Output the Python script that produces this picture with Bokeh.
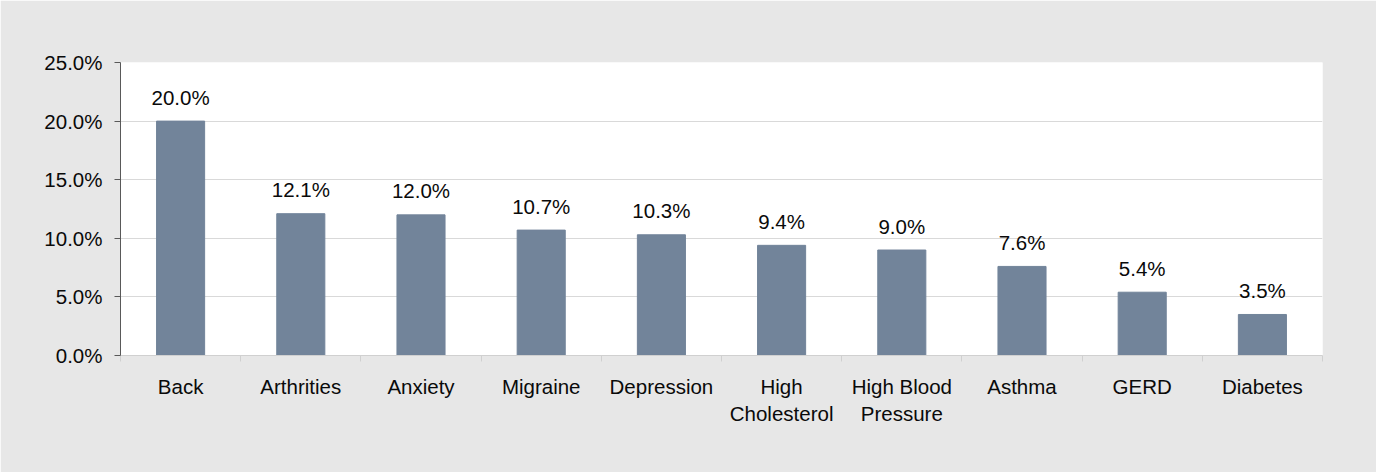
from bokeh.plotting import figure
from bokeh.models import Range1d, FixedTicker, PrintfTickFormatter, ColumnDataSource
from bokeh.core.properties import value
from bokeh.embed import file_html
from bokeh.resources import INLINE

categories = ["Back", "Arthrities", "Anxiety", "Migraine", "Depression",
              "High\nCholesterol", "High Blood\nPressure", "Asthma", "GERD", "Diabetes"]
shares = [20.0, 12.1, 12.0, 10.7, 10.3, 9.4, 9.0, 7.6, 5.4, 3.5]
y_ticks = [0, 5, 10, 15, 20, 25]

FONT = "Liberation Sans"
FS = "20.5px"
BG = "#e7e7e7"
BAR = "#72849a"
TXT = "#0a0a0a"

n = len(categories)
centers = [i + 0.5 for i in range(n)]
bounds = [float(i) for i in range(n + 1)]

src = ColumnDataSource(dict(x=centers, top=shares,
                            label=[f"{v:.1f}%" for v in shares]))

p = figure(width=1376, height=472, output_backend="svg", toolbar_location=None,
           x_range=Range1d(0, n), y_range=Range1d(0, 25))
p.min_border_left = 120
p.min_border_right = 54
p.min_border_top = 62
p.min_border_bottom = 117
p.background_fill_color = "white"
p.border_fill_color = BG
p.outline_line_color = None

p.vbar(x="x", top="top", width=0.4, color=BAR, source=src)
p.text(x="x", y="top", text="label", source=src, text_align="center",
       text_baseline="alphabetic", y_offset=-24, text_font=value(FONT),
       text_font_size=FS, text_color=TXT)

# x axis
xa = p.xaxis[0]
xa.ticker = FixedTicker(ticks=centers, minor_ticks=bounds)
xa.major_label_overrides = {c: lab for c, lab in zip(centers, categories)}
xa.major_tick_line_color = None
xa.major_tick_out = 0
xa.major_tick_in = 0
xa.minor_tick_line_color = "#d0d0d0"
xa.minor_tick_out = 6
xa.minor_tick_in = 0
xa.axis_line_color = "#d0d0d0"
xa.major_label_standoff = 13
xa.major_label_text_font = FONT
xa.major_label_text_font_size = FS
xa.major_label_text_color = TXT

# y axis
ya = p.yaxis[0]
ya.ticker = FixedTicker(ticks=y_ticks)
ya.formatter = PrintfTickFormatter(format="%.1f%%")
ya.axis_line_color = "#595959"
ya.major_tick_line_color = "#595959"
ya.major_tick_out = 6
ya.major_tick_in = 0
ya.minor_tick_line_color = None
ya.major_label_standoff = 12
ya.major_label_text_font = FONT
ya.major_label_text_font_size = FS
ya.major_label_text_color = TXT

p.xgrid.grid_line_color = None
p.ygrid.grid_line_color = "#d9d9d9"
p.ygrid.ticker = FixedTicker(ticks=y_ticks)

open("out.html", "w").write(file_html(p, INLINE))
